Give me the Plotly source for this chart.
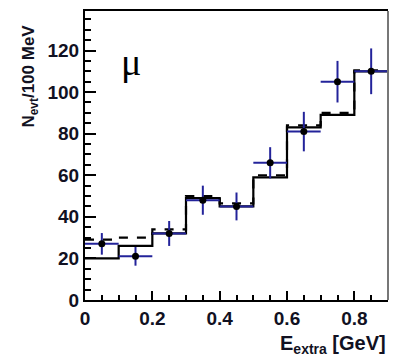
import plotly.graph_objects as go

bin_edges = [0.0, 0.1, 0.2, 0.3, 0.4, 0.5, 0.6, 0.7, 0.8, 0.9]
bin_centers = [0.05, 0.15, 0.25, 0.35, 0.45, 0.55, 0.65, 0.75, 0.85]
data_vals = [27, 21, 32, 48, 45, 66, 81, 105, 110]
data_err = [5.2, 4.5, 6.0, 7.0, 6.7, 7.5, 9.5, 10.0, 11.0]
mc_solid = [20, 26, 32, 49, 45, 59, 83, 89, 110]
mc_dashed = [29, 30, 34, 50, 46.5, 60, 84, 90, 110.5]
half_width = 0.05

BLUE = "#23239a"

fig = go.Figure()

fig.add_trace(go.Scatter(
    x=bin_edges, y=mc_dashed + [mc_dashed[-1]],
    mode="lines", line=dict(shape="hv", color="black", width=2.2, dash="dash"),
    showlegend=False, hoverinfo="skip"))

fig.add_trace(go.Scatter(
    x=bin_edges, y=mc_solid + [mc_solid[-1]],
    mode="lines", line=dict(shape="hv", color="black", width=2.2),
    showlegend=False, hoverinfo="skip"))

fig.add_trace(go.Scatter(
    x=bin_centers, y=data_vals, mode="markers",
    marker=dict(color="black", size=7, symbol="circle"),
    error_y=dict(type="data", array=data_err, color=BLUE, thickness=2, width=0),
    error_x=dict(type="constant", value=half_width, color=BLUE, thickness=2, width=0),
    showlegend=False))

tickfont = dict(family="Liberation Sans, Arial, sans-serif", size=19, color="#111122", weight="bold")

fig.update_xaxes(
    range=[0, 0.9], tickmode="linear", tick0=0, dtick=0.2,
    ticks="inside", ticklen=9, tickwidth=1.5, tickcolor="black",
    minor=dict(ticks="inside", ticklen=5, tickwidth=1.5, tickcolor="black", dtick=0.05, tick0=0),
    showline=True, linecolor="black", linewidth=2, mirror=True,
    showgrid=False, zeroline=False, tickfont=tickfont)

fig.update_yaxes(
    range=[0, 139], tickmode="linear", tick0=0, dtick=20,
    ticks="inside", ticklen=11, tickwidth=1.5, tickcolor="black",
    minor=dict(ticks="inside", ticklen=6, tickwidth=1.5, tickcolor="black", dtick=5, tick0=0),
    showline=True, linecolor="black", linewidth=2, mirror=False,
    showgrid=False, zeroline=False, tickfont=tickfont)

# right frame line (grey)
fig.add_shape(type="line", xref="paper", yref="paper", x0=1, x1=1, y0=0, y1=1,
              line=dict(color="#777777", width=2))

# page is offset by the 8px body margin: plot area spans page x 85..388, y 9..300
PL, PR, PT, PB = 77, 380, 1, 292
PW, PH = PR - PL, PB - PT

fig.add_annotation(
    text="N<sub>evt</sub>/100 MeV", xref="paper", yref="paper",
    x=(22 - PL) / PW, y=(PB - 67) / PH, xanchor="center", yanchor="middle", textangle=-90,
    showarrow=False,
    font=dict(family="Liberation Sans, Arial, sans-serif", size=17, color="#111122", weight="bold"))

fig.add_annotation(
    text="E<sub>extra</sub> [GeV]", xref="paper", yref="paper",
    x=1.0, y=(PB - 337) / PH, xanchor="right", yanchor="middle",
    showarrow=False,
    font=dict(family="Liberation Sans, Arial, sans-serif", size=20, color="#111122", weight="bold"))

fig.add_annotation(
    text="μ", xref="paper", yref="paper",
    x=(123 - PL) / PW, y=(PB - 52) / PH, xanchor="center", yanchor="middle",
    showarrow=False,
    font=dict(family="Liberation Serif, Times New Roman, serif", size=38, color="black"))

fig.update_layout(
    width=393, height=349,
    margin=dict(l=PL, r=393 - PR, t=PT, b=349 - PB),
    paper_bgcolor="white", plot_bgcolor="white",
)

fig.write_html("out.html")
